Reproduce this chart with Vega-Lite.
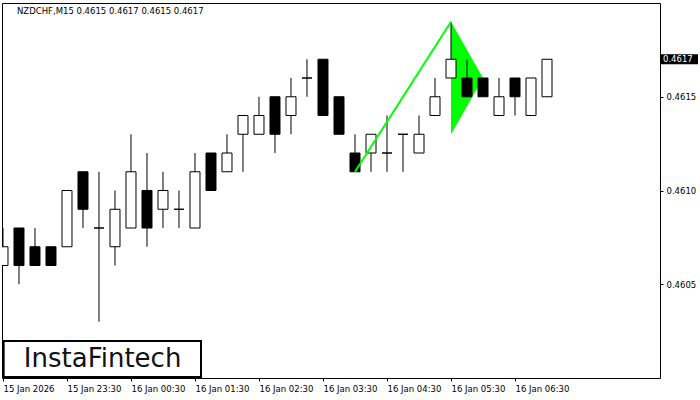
{
  "$schema": "https://vega.github.io/schema/vega-lite/v6.json",
  "width": 658,
  "height": 375,
  "autosize": {"type": "none"},
  "padding": {"left": 2, "top": 3, "right": 40, "bottom": 22},
  "background": "white",
  "config": {
    "view": {"stroke": "black", "strokeWidth": 1},
    "axis": {"grid": false, "domain": false, "labelFont": "DejaVu Sans", "labelFontSize": 8.5, "labelColor": "black", "tickColor": "black", "tickSize": 3, "title": null}
  },
  "datasets": {
    "candles": [
      {"t": "2026-01-15T22:30", "o": 0.4606, "h": 0.4608, "l": 0.4606, "c": 0.4607},
      {"t": "2026-01-15T22:45", "o": 0.4608, "h": 0.4608, "l": 0.4605, "c": 0.4606},
      {"t": "2026-01-15T23:00", "o": 0.4607, "h": 0.4608, "l": 0.4606, "c": 0.4606},
      {"t": "2026-01-15T23:15", "o": 0.4607, "h": 0.4607, "l": 0.4606, "c": 0.4606},
      {"t": "2026-01-15T23:30", "o": 0.4607, "h": 0.4610, "l": 0.4607, "c": 0.4610},
      {"t": "2026-01-15T23:45", "o": 0.4611, "h": 0.4611, "l": 0.4608, "c": 0.4609},
      {"t": "2026-01-16T00:00", "o": 0.4608, "h": 0.4611, "l": 0.4603, "c": 0.4608},
      {"t": "2026-01-16T00:15", "o": 0.4607, "h": 0.4610, "l": 0.4606, "c": 0.4609},
      {"t": "2026-01-16T00:30", "o": 0.4608, "h": 0.4613, "l": 0.4608, "c": 0.4611},
      {"t": "2026-01-16T00:45", "o": 0.4610, "h": 0.4612, "l": 0.4607, "c": 0.4608},
      {"t": "2026-01-16T01:00", "o": 0.4609, "h": 0.4611, "l": 0.4608, "c": 0.4610},
      {"t": "2026-01-16T01:15", "o": 0.4609, "h": 0.4610, "l": 0.4608, "c": 0.4609},
      {"t": "2026-01-16T01:30", "o": 0.4608, "h": 0.4612, "l": 0.4608, "c": 0.4611},
      {"t": "2026-01-16T01:45", "o": 0.4612, "h": 0.4612, "l": 0.4610, "c": 0.4610},
      {"t": "2026-01-16T02:00", "o": 0.4611, "h": 0.4613, "l": 0.4611, "c": 0.4612},
      {"t": "2026-01-16T02:15", "o": 0.4613, "h": 0.4614, "l": 0.4611, "c": 0.4614},
      {"t": "2026-01-16T02:30", "o": 0.4613, "h": 0.4615, "l": 0.4613, "c": 0.4614},
      {"t": "2026-01-16T02:45", "o": 0.4615, "h": 0.4615, "l": 0.4612, "c": 0.4613},
      {"t": "2026-01-16T03:00", "o": 0.4614, "h": 0.4616, "l": 0.4613, "c": 0.4615},
      {"t": "2026-01-16T03:15", "o": 0.4616, "h": 0.4617, "l": 0.4615, "c": 0.4616},
      {"t": "2026-01-16T03:30", "o": 0.4617, "h": 0.4617, "l": 0.4614, "c": 0.4614},
      {"t": "2026-01-16T03:45", "o": 0.4615, "h": 0.4615, "l": 0.4613, "c": 0.4613},
      {"t": "2026-01-16T04:00", "o": 0.4612, "h": 0.4613, "l": 0.4611, "c": 0.4611},
      {"t": "2026-01-16T04:15", "o": 0.4612, "h": 0.4613, "l": 0.4611, "c": 0.4613},
      {"t": "2026-01-16T04:30", "o": 0.4612, "h": 0.4614, "l": 0.4611, "c": 0.4612},
      {"t": "2026-01-16T04:45", "o": 0.4613, "h": 0.4613, "l": 0.4611, "c": 0.4613},
      {"t": "2026-01-16T05:00", "o": 0.4612, "h": 0.4614, "l": 0.4612, "c": 0.4613},
      {"t": "2026-01-16T05:15", "o": 0.4614, "h": 0.4616, "l": 0.4614, "c": 0.4615},
      {"t": "2026-01-16T05:30", "o": 0.4616, "h": 0.4619, "l": 0.4616, "c": 0.4617},
      {"t": "2026-01-16T05:45", "o": 0.4616, "h": 0.4617, "l": 0.4615, "c": 0.4615},
      {"t": "2026-01-16T06:00", "o": 0.4616, "h": 0.4616, "l": 0.4615, "c": 0.4615},
      {"t": "2026-01-16T06:15", "o": 0.4614, "h": 0.4616, "l": 0.4614, "c": 0.4615},
      {"t": "2026-01-16T06:30", "o": 0.4616, "h": 0.4616, "l": 0.4614, "c": 0.4615},
      {"t": "2026-01-16T06:45", "o": 0.4614, "h": 0.4616, "l": 0.4614, "c": 0.4616},
      {"t": "2026-01-16T07:00", "o": 0.4615, "h": 0.4617, "l": 0.4615, "c": 0.4617}
    ],
    "pole": [
      {"t": "2026-01-16T04:00", "p": 0.4611},
      {"t": "2026-01-16T05:30", "p": 0.4619}
    ],
    "flag": [
      {"t": "2026-01-16T05:30", "hi": 0.4619, "lo": 0.4613},
      {"t": "2026-01-16T06:00", "hi": 0.4616, "lo": 0.4616}
    ]
  },
  "layer": [
    {
      "data": {"name": "flag"},
      "mark": {"type": "area", "color": "#00FF00", "opacity": 1, "clip": true},
      "encoding": {
        "x": {
          "field": "t", "type": "temporal",
          "scale": {"domain": [
            {"year": 2026, "month": 1, "date": 15, "hours": 22, "minutes": 29, "seconds": 4},
            {"year": 2026, "month": 1, "date": 16, "hours": 8, "minutes": 45, "seconds": 56}
          ], "nice": false, "padding": 0},
          "axis": {
            "orient": "bottom",
            "values": [
              {"year": 2026, "month": 1, "date": 15, "hours": 22, "minutes": 30},
              {"year": 2026, "month": 1, "date": 15, "hours": 23, "minutes": 30},
              {"year": 2026, "month": 1, "date": 16, "hours": 0, "minutes": 30},
              {"year": 2026, "month": 1, "date": 16, "hours": 1, "minutes": 30},
              {"year": 2026, "month": 1, "date": 16, "hours": 2, "minutes": 30},
              {"year": 2026, "month": 1, "date": 16, "hours": 3, "minutes": 30},
              {"year": 2026, "month": 1, "date": 16, "hours": 4, "minutes": 30},
              {"year": 2026, "month": 1, "date": 16, "hours": 5, "minutes": 30},
              {"year": 2026, "month": 1, "date": 16, "hours": 6, "minutes": 30}
            ],
            "labelExpr": "timeFormat(datum.value, '%H:%M') == '22:30' ? '15 Jan 2026' : timeFormat(datum.value, '%d %b %H:%M')",
            "labelAlign": "left",
            "labelBaseline": "middle",
            "labelPadding": 7,
            "labelFlush": false,
            "labelOverlap": false,
            "labelBound": false
          }
        },
        "y": {
          "field": "hi", "type": "quantitative",
          "scale": {"domain": [0.4600, 0.4620], "nice": false, "zero": false, "padding": 0},
          "axis": {
            "orient": "right",
            "values": [0.4605, 0.4610, 0.4615],
            "format": ".4f",
            "labelPadding": 3,
            "labelBaseline": "middle"
          }
        },
        "y2": {"field": "lo"}
      }
    },
    {
      "mark": {"type": "rule", "color": "black", "strokeWidth": 1},
      "encoding": {"y": {"datum": 0.4617, "type": "quantitative"}}
    },
    {
      "data": {"name": "candles"},
      "mark": {"type": "rule", "color": "black", "strokeWidth": 1, "clip": true},
      "encoding": {
        "x": {"field": "t", "type": "temporal"},
        "y": {"field": "l", "type": "quantitative"},
        "y2": {"field": "h"}
      }
    },
    {
      "data": {"name": "candles"},
      "mark": {"type": "bar", "size": 10, "stroke": "black", "strokeWidth": 1, "clip": true},
      "encoding": {
        "x": {"field": "t", "type": "temporal"},
        "y": {"field": "o", "type": "quantitative"},
        "y2": {"field": "c"},
        "fill": {"condition": {"test": "datum.c < datum.o", "value": "black"}, "value": "white"}
      }
    },
    {
      "data": {"name": "pole"},
      "mark": {"type": "line", "color": "#00FF00", "strokeWidth": 2, "clip": true},
      "encoding": {
        "x": {"field": "t", "type": "temporal"},
        "y": {"field": "p", "type": "quantitative"}
      }
    },
    {
      "data": {"values": [{"label": "NZDCHF,M15  0.4615 0.4617 0.4615 0.4617"}]},
      "mark": {"type": "text", "align": "left", "baseline": "middle", "font": "DejaVu Sans", "fontSize": 8.5, "color": "black"},
      "encoding": {
        "x": {"datum": {"year": 2026, "month": 1, "date": 15, "hours": 22, "minutes": 43, "seconds": 8}, "type": "temporal"},
        "y": {"datum": 0.4619573, "type": "quantitative"},
        "text": {"field": "label"}
      }
    },
    {
      "data": {"values": [{"label": "InstaFintech"}]},
      "mark": {"type": "rect", "fill": "white", "stroke": "black", "strokeWidth": 2},
      "encoding": {
        "x": {"datum": {"year": 2026, "month": 1, "date": 15, "hours": 22, "minutes": 30, "seconds": 36}, "type": "temporal"},
        "x2": {"datum": {"year": 2026, "month": 1, "date": 16, "hours": 1, "minutes": 35, "seconds": 38}},
        "y": {"datum": 0.4601973, "type": "quantitative"},
        "y2": {"datum": 0.4600053}
      }
    },
    {
      "data": {"values": [{"label": "InstaFintech"}]},
      "mark": {"type": "text", "align": "center", "baseline": "middle", "font": "DejaVu Sans", "fontSize": 26, "fontWeight": "normal", "color": "#111111"},
      "encoding": {
        "x": {"datum": {"year": 2026, "month": 1, "date": 16, "hours": 0, "minutes": 3, "seconds": 24}, "type": "temporal"},
        "y": {"datum": 0.460104, "type": "quantitative"},
        "text": {"field": "label"}
      }
    },
    {
      "data": {"values": [{"label": "0.4617"}]},
      "mark": {"type": "rect", "fill": "black"},
      "encoding": {
        "x": {"datum": {"year": 2026, "month": 1, "date": 16, "hours": 8, "minutes": 46, "seconds": 52}, "type": "temporal"},
        "x2": {"datum": {"year": 2026, "month": 1, "date": 16, "hours": 9, "minutes": 21, "seconds": 34}},
        "y": {"datum": 0.4617267, "type": "quantitative"},
        "y2": {"datum": 0.4616733}
      }
    },
    {
      "data": {"values": [{"label": "0.4617"}]},
      "mark": {"type": "text", "align": "left", "baseline": "middle", "font": "DejaVu Sans", "fontSize": 8.5, "color": "white"},
      "encoding": {
        "x": {"datum": {"year": 2026, "month": 1, "date": 16, "hours": 8, "minutes": 48, "seconds": 45}, "type": "temporal"},
        "y": {"datum": 0.4617, "type": "quantitative"},
        "text": {"field": "label"}
      }
    }
  ]
}
